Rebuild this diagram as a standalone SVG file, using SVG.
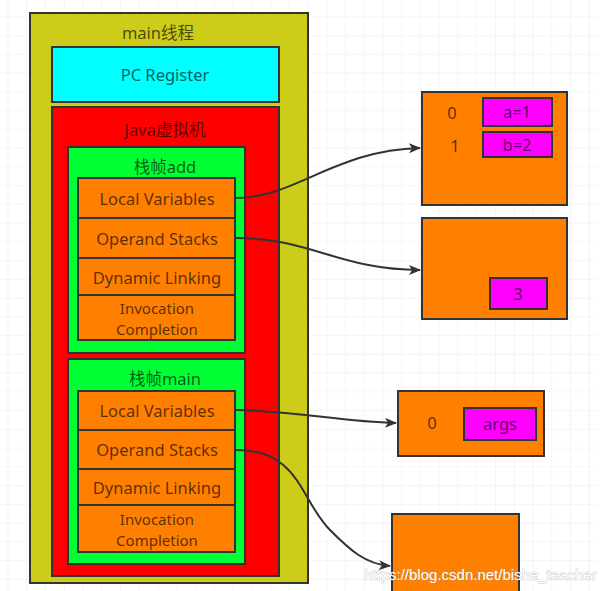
<svg xmlns="http://www.w3.org/2000/svg" width="612" height="591" viewBox="0 0 612 591">
<defs>
<pattern id="grid" x="-10.25" y="-1.4" width="18.75" height="18.75" patternUnits="userSpaceOnUse">
<path d="M18.75 0V18.75M0 18.75H18.75" fill="none" stroke="#ebebeb" stroke-width="1"/>
</pattern>
<marker id="arr" viewBox="0 0 12 10" refX="11" refY="5" markerWidth="12" markerHeight="10" markerUnits="userSpaceOnUse" orient="auto">
<path d="M0,0 L12,5 L0,10 L3,5 Z" fill="#333"/>
</marker>
<style>
.b{stroke:#333;stroke-width:2}
.t{font-family:"Noto Sans","Noto Sans CJK SC",sans-serif;font-size:16.5px;fill:#000;fill-opacity:0.65;text-anchor:middle}
.s{font-size:15px}
.o{fill:#ff7f00}
.m{fill:#ff00ff}
.c{fill:none;stroke:#333;stroke-width:2}
</style>
</defs>
<rect x="0" y="0" width="612" height="591" fill="#fff"/>
<rect x="0" y="0" width="597" height="591" fill="url(#grid)"/>

<g id="main-thread">
<rect class="b" x="30" y="13" width="278" height="570" fill="#cccc19"/>
<text class="t" x="158" y="39">main线程</text>
</g>
<g id="pc-register">
<rect class="b" x="52" y="47" width="227" height="55" fill="#00ffff"/>
<text class="t" x="165" y="81">PC Register</text>
</g>
<g id="jvm">
<rect class="b" x="52" y="107" width="227" height="469" fill="#ff0000"/>
<text class="t" x="165" y="136">Java虚拟机</text>
</g>
<g id="frame-add">
<rect class="b" x="68" y="147" width="177" height="206" fill="#00ff33"/>
<text class="t" x="165" y="173">栈帧add</text>
</g>
<g id="add-local">
<rect class="b o" x="78" y="178" width="157" height="40"/>
<text class="t" x="157" y="205">Local Variables</text>
</g>
<g id="add-operand">
<rect class="b o" x="78" y="218" width="157" height="40"/>
<text class="t" x="157" y="245">Operand Stacks</text>
</g>
<g id="add-dynamic">
<rect class="b o" x="78" y="258" width="157" height="37"/>
<text class="t" x="157" y="284">Dynamic Linking</text>
</g>
<g id="add-invocation">
<rect class="b o" x="78" y="295" width="157" height="45"/>
<text class="t s" x="157" y="314">Invocation</text>
<text class="t s" x="157" y="334.5">Completion</text>
</g>
<g id="frame-main">
<rect class="b" x="68" y="359" width="177" height="205" fill="#00ff33"/>
<text class="t" x="165" y="385">栈帧main</text>
</g>
<g id="main-local">
<rect class="b o" x="78" y="391" width="157" height="39"/>
<text class="t" x="157" y="417">Local Variables</text>
</g>
<g id="main-operand">
<rect class="b o" x="78" y="430" width="157" height="39"/>
<text class="t" x="157" y="456">Operand Stacks</text>
</g>
<g id="main-dynamic">
<rect class="b o" x="78" y="469" width="157" height="36"/>
<text class="t" x="157" y="494">Dynamic Linking</text>
</g>
<g id="main-invocation">
<rect class="b o" x="78" y="505" width="157" height="47"/>
<text class="t s" x="157" y="525">Invocation</text>
<text class="t s" x="157" y="545.5">Completion</text>
</g>

<g id="add-locals-table">
<rect class="b o" x="422" y="92" width="145" height="113"/>
<text class="t" x="452" y="119">0</text>
<text class="t" x="455" y="152">1</text>
<rect class="b m" x="483" y="98" width="69" height="28"/>
<text class="t" x="517" y="118">a=1</text>
<rect class="b m" x="483" y="132" width="69" height="25"/>
<text class="t" x="517" y="151">b=2</text>
</g>
<g id="add-stack">
<rect class="b o" x="422" y="218" width="145" height="101"/>
<rect class="b m" x="490" y="278" width="57" height="31"/>
<text class="t" x="518" y="300">3</text>
</g>
<g id="main-locals-table">
<rect class="b o" x="398" y="391" width="146" height="65"/>
<text class="t" x="432" y="429">0</text>
<rect class="b m" x="464" y="408" width="72" height="32"/>
<text class="t" x="500" y="430">args</text>
</g>
<g id="main-stack">
<rect class="b o" x="392" y="514" width="127" height="90"/>
</g>

<g id="connectors">
<path class="c" d="M236,198 C295,198 335,150 420,148" marker-end="url(#arr)"/>
<path class="c" d="M236,238 C310,238 340,270 420,270" marker-end="url(#arr)"/>
<path class="c" d="M236,410 C300,411 340,422 396,423" marker-end="url(#arr)"/>
<path class="c" d="M236,450 C300,450 300,500 330,530 C350,550 365,564 390,566" marker-end="url(#arr)"/>
</g>

<text x="364" y="580" font-family="Liberation Sans, Arial, sans-serif" font-size="15" fill="#fff" stroke="#999" stroke-width="0.5" paint-order="stroke">https://blog.csdn.net/bishe_teacher</text>
</svg>
